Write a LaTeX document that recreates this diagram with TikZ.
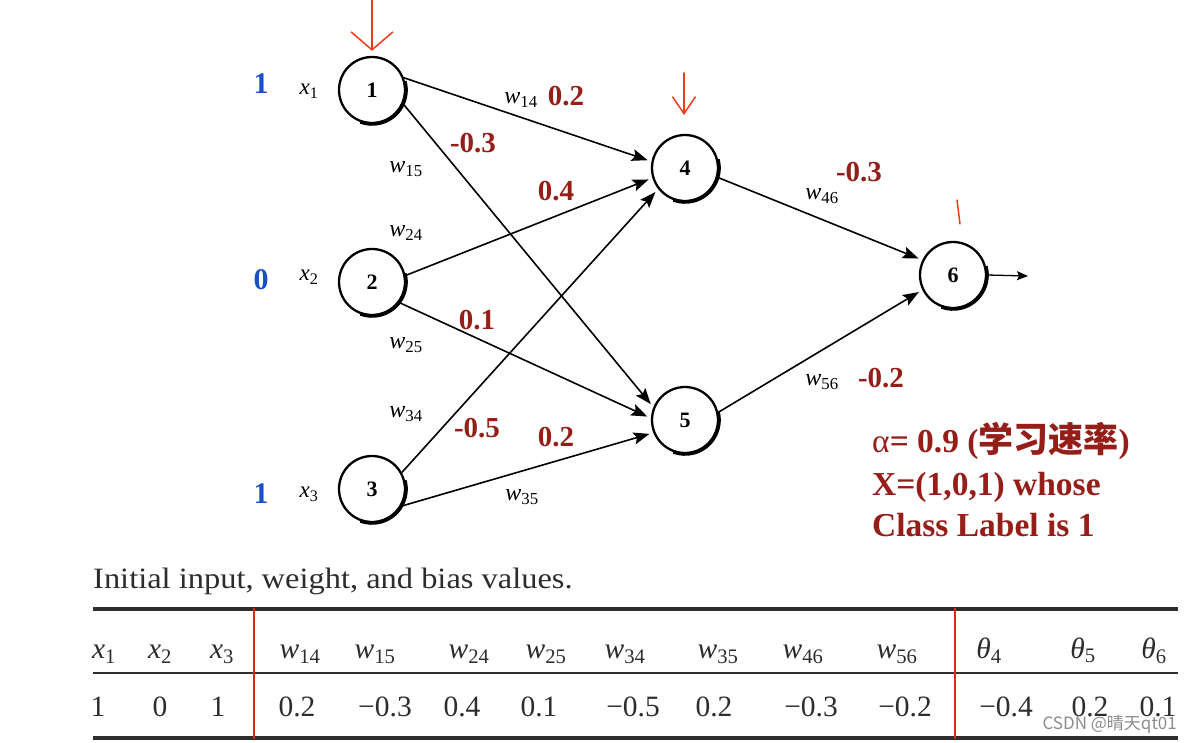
\documentclass[tikz,border=0pt]{standalone}
\usepackage{fontspec}
\setmainfont{Liberation Serif}
\newfontfamily\cjk{Noto Sans CJK SC}
\newfontfamily\capfont{Liberation Serif}[FakeStretch=1.1]
\usetikzlibrary{arrows.meta}
\definecolor{wred}{RGB}{150,30,25}
\definecolor{iblue}{RGB}{25,80,200}
\definecolor{hred}{RGB}{235,60,30}
\definecolor{tgray}{RGB}{45,45,45}
\definecolor{tred}{RGB}{210,45,25}
\begin{document}
\begin{tikzpicture}[x=1pt,y=1pt,
  neuron/.style={circle,draw,line width=2.3pt,minimum size=66pt,inner sep=0pt,font=\fontsize{22}{22}\selectfont\bfseries},
  conn/.style={line width=1.6pt,-{Stealth[length=16pt,width=12pt,inset=3pt]},shorten >=4pt},
  wlab/.style={font=\fontsize{24}{24}\selectfont,inner sep=0pt},
  wval/.style={text=wred,font=\fontsize{29}{29}\selectfont\bfseries,inner sep=0pt},
  inval/.style={text=iblue,font=\fontsize{30}{30}\selectfont\bfseries,inner sep=0pt},
  xlab/.style={font=\fontsize{23}{23}\selectfont,inner sep=0pt},
  hand/.style={draw=hred,line width=1.5pt,line cap=round,line join=round},
  tabtxt/.style={font=\fontsize{29.5}{29.5}\selectfont,text=tgray,inner sep=0pt,anchor=base},
  redtxt/.style={text=wred,font=\fontsize{33.5}{33.5}\selectfont\bfseries,inner sep=0pt,anchor=base west}]
\fill[white] (0,0) rectangle (1192,-742);
\useasboundingbox (0,0) rectangle (1192,-742);

% neurons
\node[neuron] (n1) at (372,-90) {1};
\node[neuron] (n2) at (372,-282) {2};
\node[neuron] (n3) at (372,-489) {3};
\node[neuron] (n4) at (685,-168) {4};
\node[neuron] (n5) at (685,-420) {5};
\node[neuron] (n6) at (953,-275) {6};
\foreach \n in {n1,n2,n3,n4,n5,n6}
  \draw[line width=3.6pt] (\n.center) ++(15:34) arc[start angle=15,end angle=-110,radius=34];

% connections
\draw[conn] (n1.21) -- (n4.169);
\draw[conn] (n1.-24) -- (n5.158);
\draw[conn] (n2.11) -- (n4.-163);
\draw[conn] (n2.-37) -- (n5.177);
\draw[conn] (n3.29) -- (n4.-142);
\draw[conn] (n3.-30) -- (n5.-158);
\draw[conn] (n4.-16) -- (n6.154);
\draw[conn] (n5.13) -- (n6.-154);
\coordinate (out) at (1028,-276);
\draw[line width=1.3pt,-{Stealth[length=11pt,width=9pt,inset=2pt]}] (n6.east) -- (out);

% inputs
\node[inval] at (261,-84) {1};
\node[inval] at (261,-280) {0};
\node[inval] at (261,-494) {1};
\node[xlab] at (309,-91) {\textit{x}\textsubscript{1}};
\node[xlab] at (309,-277) {\textit{x}\textsubscript{2}};
\node[xlab] at (309,-494) {\textit{x}\textsubscript{3}};

% weight labels
\node[wlab] at (521,-100) {\textit{w}\textsubscript{14}};
\node[wval] at (566,-96) {0.2};
\node[wval] at (473,-143) {-0.3};
\node[wlab] at (406,-169) {\textit{w}\textsubscript{15}};
\node[wval] at (556,-191) {0.4};
\node[wlab] at (406,-233) {\textit{w}\textsubscript{24}};
\node[wval] at (477,-320) {0.1};
\node[wlab] at (406,-345) {\textit{w}\textsubscript{25}};
\node[wlab] at (406,-414) {\textit{w}\textsubscript{34}};
\node[wval] at (477,-428) {-0.5};
\node[wval] at (556,-437) {0.2};
\node[wlab] at (522,-497) {\textit{w}\textsubscript{35}};
\node[wval] at (859,-172) {-0.3};
\node[wlab] at (822,-196) {\textit{w}\textsubscript{46}};
\node[wlab] at (822,-382) {\textit{w}\textsubscript{56}};
\node[wval] at (881,-378) {-0.2};

% hand-drawn red marks
\coordinate (t1) at (372,0);
\draw[hand,-{Straight Barb[length=18pt,width=42pt]},shorten >=5pt] (t1) -- (n1.north);
\coordinate (t4a) at (684,-73);
\coordinate (t4b) at (684,-115);
\draw[hand,-{Straight Barb[length=17pt,width=23pt]}] (t4a) -- (t4b);
\draw[hand] (957,-200) -- (960,-224);

% red note
\node[redtxt] at (872,-452) {{\mdseries α}= 0.9 ({\cjk\fontsize{35}{35}\selectfont 学习速率})};
\node[redtxt] at (872,-495) {X=(1,0,1) whose};
\node[redtxt] at (872,-536) {Class Label is 1};

% table
\node[tabtxt,anchor=base west,font=\capfont\fontsize{29.5}{29.5}\selectfont] at (93,-588) {Initial input, weight, and bias values.};
\draw[line width=3.5pt,tgray] (93,-609) -- (1178,-609);
\draw[line width=1.6pt,tgray] (93,-673) -- (1178,-673);
\draw[line width=3.5pt,tgray] (93,-738) -- (1178,-738);
\draw[line width=2.5pt,tred] (254,-608) -- (254,-739);
\draw[line width=2.5pt,tred] (955,-608) -- (955,-739);
\foreach \x/\t in {104/\textit{x}\textsubscript{1},160/\textit{x}\textsubscript{2},222/\textit{x}\textsubscript{3},
  300/\textit{w}\textsubscript{14},375/\textit{w}\textsubscript{15},469/\textit{w}\textsubscript{24},546/\textit{w}\textsubscript{25},
  625/\textit{w}\textsubscript{34},718/\textit{w}\textsubscript{35},803/\textit{w}\textsubscript{46},897/\textit{w}\textsubscript{56},
  989/\textit{θ}\textsubscript{4},1083/\textit{θ}\textsubscript{5},1154/\textit{θ}\textsubscript{6}}
  \node[tabtxt] at (\x,-658) {\t};
\foreach \x/\t in {98/1,160/0,218/1,297/0.2,385/−0.3,462/0.4,539/0.1,633/−0.5,714/0.2,811/−0.3,905/−0.2,1006/−0.4,1090/0.2,1158/0.1}
  \node[tabtxt] at (\x,-716) {\t};

% watermark
\node[anchor=east,inner sep=0pt,text=black!45,font=\cjk\fontsize{17}{17}\selectfont] at (1177,-724) {CSDN @晴天qt01};
\end{tikzpicture}
\end{document}
